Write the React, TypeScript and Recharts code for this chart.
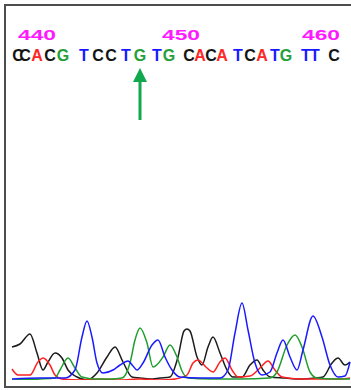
import { LineChart, Line, XAxis, YAxis } from 'recharts';

// sequence calls shown above the traces (scan position, base)
const BASES = ['C', 'C', 'A', 'C', 'G', 'T', 'C', 'C', 'T', 'G', 'T', 'G', 'C', 'A', 'C', 'A', 'T', 'C', 'A', 'T', 'G', 'T', 'T', 'C'];
const BASE_POS = [12, 19, 31, 44, 57, 78, 92, 105, 120, 134, 151, 163, 183, 194, 205, 216, 232, 244, 256, 269, 280, 300, 309, 328];
const MARKED_BASE = 9;

const POS_LABELS = ['440', '450', '460'];
const POS_TICKS = [31, 175, 315];

// trace intensities: [scan, signal]
const TRACE_C: [number, number][] = [
  [6, 33], [14, 36], [24, 46], [31, 27], [37, 10], [42, 18], [49, 27], [56, 22], [62, 10], [71, 3], [81, 0],
  [91, 7], [101, 23], [109, 33], [117, 18], [126, 3], [134, 2], [144, 1], [154, 2], [164, 3], [172, 23],
  [178, 49], [181, 51], [184, 49], [191, 23], [196, 15], [202, 33], [207, 43], [214, 27], [221, 10], [227, 3],
  [236, 3], [244, 15], [251, 20], [257, 10], [264, 3], [279, 2], [294, 1], [309, 2], [317, 3], [326, 17],
  [332, 22], [339, 15], [344, 18],
];
const TRACE_A: [number, number][] = [
  [6, 11], [12, 5], [24, 5], [32, 18], [37, 22], [44, 15], [49, 5], [56, 1], [74, 0], [94, 1], [114, 0],
  [134, 1], [154, 0], [169, 1], [181, 5], [187, 17], [192, 20], [201, 12], [207, 8], [214, 18], [219, 22],
  [226, 10], [232, 3], [244, 4], [254, 12], [262, 19], [269, 10], [276, 3], [294, 1], [314, 1], [334, 1], [344, 2],
];
const TRACE_T: [number, number][] = [
  [6, 1], [34, 2], [59, 2], [69, 10], [76, 43], [81, 59], [86, 43], [91, 17], [97, 7], [107, 10], [114, 15],
  [122, 19], [127, 14], [131, 10], [137, 17], [146, 35], [152, 40], [159, 23], [166, 10], [174, 3], [194, 2],
  [214, 2], [222, 10], [229, 47], [236, 77], [242, 50], [249, 17], [256, 5], [264, 8], [271, 27], [277, 40],
  [284, 23], [291, 10], [297, 30], [307, 64], [316, 43], [324, 15], [332, 3], [339, 4], [344, 18],
];
const TRACE_G: [number, number][] = [
  [6, 0], [34, 1], [49, 2], [54, 10], [62, 22], [69, 12], [76, 3], [89, 1], [104, 1], [116, 2], [124, 17],
  [129, 40], [134, 52], [141, 37], [147, 13], [157, 23], [164, 35], [171, 23], [176, 9], [182, 2], [204, 1],
  [234, 1], [264, 2], [271, 8], [281, 35], [289, 45], [296, 33], [304, 8], [311, 2], [329, 1], [344, 1],
];

const BASE_COLORS: Record<string, string> = { A: '#ff2626', C: '#141414', G: '#23a03a', T: '#1818ff' };
const ARROW_COLOR = '#12a84e';
const FONT = 'Liberation Sans, Arial, sans-serif';

// one top axis carries both the base calls and the position numbers
const TOP_TICKS = [...BASE_POS, ...POS_TICKS];

const toRows = (t: [number, number][]) => t.map(([x, v]) => ({ x, v }));

function TopTick(props: any) {
  const { x, index } = props;
  if (index >= BASES.length) {
    return (
      <text x={x} y={40} textAnchor="middle" fill="#ff19ff" fontSize={14} fontWeight="bold"
        fontFamily={FONT} textLength={38} lengthAdjust="spacingAndGlyphs">
        {POS_LABELS[index - BASES.length]}
      </text>
    );
  }
  const b = BASES[index];
  return (
    <g>
      <text x={x} y={61} textAnchor="middle" fill={BASE_COLORS[b]} fontSize={16} fontWeight="bold" fontFamily={FONT}>
        {b}
      </text>
      {index === MARKED_BASE && (
        <g fill={ARROW_COLOR}>
          <polygon points={`${x},68 ${x - 7},82 ${x + 7},82`} />
          <rect x={x - 1.5} y={81} width={3} height={39} />
        </g>
      )}
    </g>
  );
}

export default function App() {
  return (
    <div style={{ position: 'fixed', left: 0, top: 0, width: 351, height: 390, background: '#fff' }}>
      <LineChart width={351} height={390} margin={{ top: 0, right: 0, bottom: 10, left: 6 }}>
        <XAxis type="number" dataKey="x" orientation="top" domain={[0, 345]} allowDataOverflow
          ticks={TOP_TICKS} interval={0} height={68} axisLine={false} tickLine={false} tick={<TopTick />} />
        <YAxis type="number" domain={[0, 312]} hide allowDataOverflow />
        <Line data={toRows(TRACE_C)} dataKey="v" type="monotone" stroke="#1c1c1c" strokeWidth={1.5} dot={false} isAnimationActive={false} />
        <Line data={toRows(TRACE_A)} dataKey="v" type="monotone" stroke="#ff2020" strokeWidth={1.5} dot={false} isAnimationActive={false} />
        <Line data={toRows(TRACE_G)} dataKey="v" type="monotone" stroke="#1f9e2e" strokeWidth={1.5} dot={false} isAnimationActive={false} />
        <Line data={toRows(TRACE_T)} dataKey="v" type="monotone" stroke="#1a1aff" strokeWidth={1.5} dot={false} isAnimationActive={false} />
      </LineChart>
      <div style={{
        position: 'absolute', left: 4, top: 4, width: 347, height: 380,
        borderLeft: '2px solid #4d4d4d', borderTop: '2px solid #4d4d4d', borderBottom: '2px solid #4d4d4d',
        pointerEvents: 'none',
      }} />
    </div>
  );
}
